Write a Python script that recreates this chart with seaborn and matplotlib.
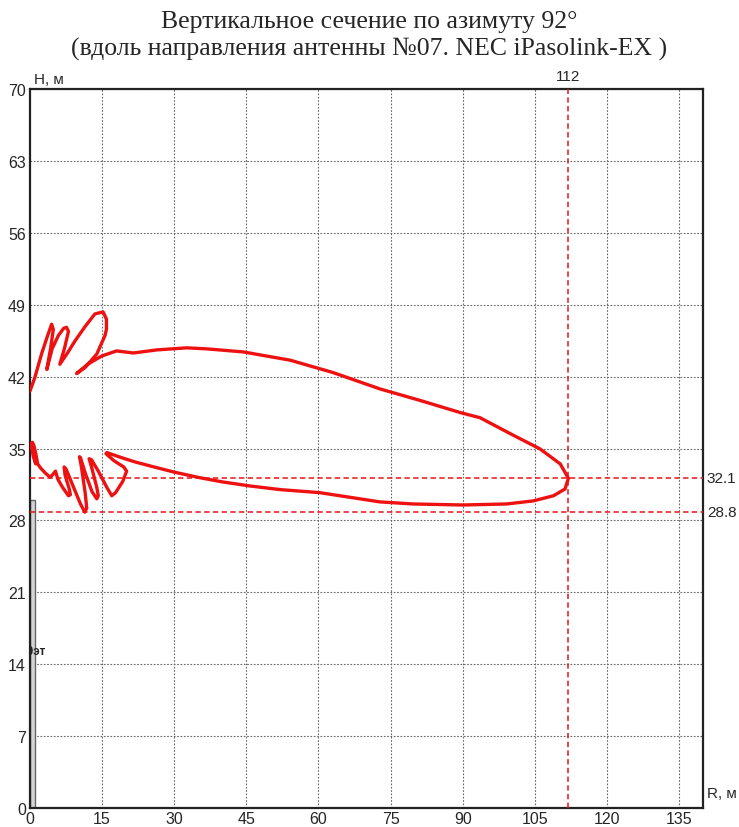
import numpy as np
import pandas as pd
import matplotlib
matplotlib.use("Agg")
import matplotlib.pyplot as plt
import seaborn as sns

# Radiation pattern section contour: R (m), H (m)
pattern_r = [0.0, 1.0, 2.4, 3.6, 4.5, 4.85, 4.3, 3.5, 4.6, 5.9, 7.0, 7.6, 8.0, 7.2, 6.2,
             7.8, 9.4, 11.5, 13.5, 15.2, 15.9, 15.9, 15.6, 13.9, 11.5, 9.7, 12.0, 14.9,
             18.0, 21.5, 26.4, 32.6, 36.8, 44.4, 54.1, 63.0, 72.8, 81.0, 89.5, 93.6,
             100.5, 106.1, 110.3, 112.0, 111.3, 108.9, 104.7, 99.2, 90.1, 79.7, 72.8,
             60.3, 52.0, 45.8, 40.0, 35.4, 30.0, 25.0, 21.8, 19.1, 16.0, 15.8, 17.5,
             19.5, 20.1, 19.3, 17.8, 17.0, 16.0, 14.2, 12.8, 12.3, 12.8, 13.9, 14.2,
             13.9, 12.9, 11.5, 10.5, 10.3, 10.7, 11.5, 11.8, 11.4, 10.5, 9.0, 7.5, 7.1,
             7.3, 8.2, 8.4, 8.0, 6.8, 5.8, 5.3, 4.8, 4.2, 3.2, 2.2, 1.6, 1.2, 0.8, 0.5,
             0.4, 0.7, 1.2, 0.7, 0.3, 0.0]
pattern_h = [40.6, 41.9, 44.2, 45.9, 47.1, 46.6, 44.8, 42.7, 44.7, 46.0, 46.7, 46.8, 46.4,
             44.8, 43.2, 44.3, 45.5, 46.9, 48.1, 48.3, 47.6, 46.6, 46.0, 44.2, 42.9, 42.3,
             43.2, 44.0, 44.5, 44.3, 44.6, 44.8, 44.7, 44.4, 43.6, 42.4, 40.8, 39.7, 38.5,
             38.0, 36.3, 34.96, 33.5, 32.1, 31.06, 30.4, 29.9, 29.6, 29.5, 29.6, 29.8,
             30.7, 31.0, 31.35, 31.75, 32.15, 32.7, 33.3, 33.7, 34.1, 34.6, 34.5, 33.8,
             33.2, 32.8, 31.8, 30.7, 30.4, 31.2, 32.8, 33.9, 34.0, 33.2, 31.2, 30.4,
             30.1, 30.8, 32.6, 34.1, 34.2, 33.2, 30.6, 29.2, 28.8, 29.6, 31.3, 33.0,
             33.2, 32.4, 31.0, 30.5, 30.4, 31.2, 32.0, 32.8, 32.5, 32.2, 32.6, 33.1,
             33.5, 34.5, 35.3, 35.6, 35.0, 34.2, 33.5, 34.8, 35.2, 35.5]

# Marker values
r_max = 112
h_levels = [32.1, 28.8]

# Building at the origin
building_width = 1.0
building_height = 30.0
building_label = "10эт"

x_ticks = list(range(0, 136, 15))
y_ticks = list(range(0, 71, 7))

title_line1 = "Вертикальное сечение по азимуту 92°"
title_line2 = "(вдоль направления антенны №07. NEC iPasolink-EX )"

sns.set_style("white")
plt.rcParams["font.family"] = ["Liberation Sans", "DejaVu Sans"]

fig = plt.figure(figsize=(7.39, 8.28), dpi=100)
ax = fig.add_axes([30 / 739, 1 - 809 / 828, 673 / 739, 719 / 828])

df = pd.DataFrame({"R": pattern_r, "H": pattern_h})

# Grid
for xv in x_ticks[1:]:
    ax.axvline(xv, color="#666666", lw=0.8, ls=(0, (1.5, 1.5)), zorder=1)
for yv in y_ticks[1:]:
    ax.axhline(yv, color="#666666", lw=0.8, ls=(0, (1.5, 1.5)), zorder=1)

# Building
ax.bar([building_width / 2], [building_height], width=building_width,
       color="#d4d4d4", edgecolor="#666666", linewidth=1.0, zorder=2)
ax.text(3.2, 15.3, building_label, ha="right", va="center", fontsize=8.5,
        fontweight="bold", clip_on=True, zorder=3)

# Marker lines
ax.axvline(r_max, color="#e8141b", lw=1.1, ls=(0, (3.5, 2.2)), zorder=3)
for hv in h_levels:
    ax.axhline(hv, color="#e8141b", lw=1.1, ls=(0, (3.5, 2.2)), zorder=3)

sns.lineplot(data=df, x="R", y="H", sort=False, estimator=None, ax=ax,
             color="#ee1111", lw=2.4, zorder=4)

ax.set_xlim(0, 140)
ax.set_ylim(0, 70)
ax.set_xticks(x_ticks)
ax.set_yticks(y_ticks)
ax.tick_params(axis="both", length=0, labelsize=11.5, pad=2)
ax.tick_params(axis="y", pad=3)
ax.set_xlabel("")
ax.set_ylabel("")
for sp in ax.spines.values():
    sp.set_visible(True)
    sp.set_color("#222222")
    sp.set_linewidth(1.6)

# Axis captions and marker labels
ax.text(0.8, 70.3, "H, м", ha="left", va="bottom", fontsize=11)
ax.text(140.8, 0.8, "R, м", ha="left", va="bottom", fontsize=11, clip_on=False)
ax.text(r_max, 70.6, str(r_max), ha="center", va="bottom", fontsize=11)
for hv in h_levels:
    ax.text(140.8, hv, f"{hv}", ha="left", va="center", fontsize=11, clip_on=False)

serif = ["Liberation Serif", "DejaVu Serif"]
fig.text(0.5, 1 - 22 / 828, title_line1, ha="center", va="center",
         fontsize=18.5, family=serif)
fig.text(0.5, 1 - 49 / 828, title_line2, ha="center", va="center",
         fontsize=18.5, family=serif)

fig.savefig("out.png", dpi=100)
